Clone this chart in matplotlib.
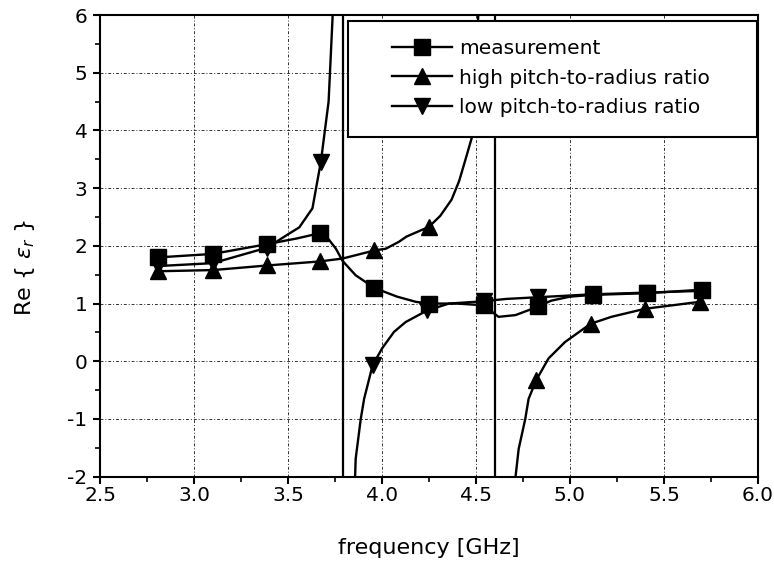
import matplotlib
matplotlib.use('Agg')
import matplotlib.pyplot as plt
from matplotlib.patches import Rectangle
from matplotlib.ticker import MultipleLocator, FormatStrFormatter

plt.rcParams.update({
    'font.family': ['DejaVu Sans'],
    'font.size': 14.5,
    'axes.unicode_minus': False,
    'axes.linewidth': 1.5,
})

NAN = float('nan')

# measurement (squares)
f_meas = [2.81, 3.10, 3.39, 3.55, 3.67, 3.70, 3.755, 3.79, 3.86, 3.96, 4.08, 4.18, 4.25,
          4.40, 4.54, 4.62, 4.71, 4.80, 4.83, 4.90, 5.00, 5.12, 5.41, 5.70]
e_meas = [1.80, 1.86, 2.03, 2.13, 2.22, 2.18, 1.95, 1.74, 1.49, 1.27, 1.12, 1.03, 1.00,
          1.00, 0.97, 0.77, 0.80, 0.91, 0.95, 1.05, 1.12, 1.15, 1.18, 1.24]
mk_meas = [0, 1, 2, 4, 9, 12, 14, 18, 21, 22, 23]

# high pitch-to-radius ratio (up triangles), pole near 4.6 GHz
f_high = [2.81, 3.10, 3.39, 3.67, 3.79, 3.96, 4.02, 4.09, 4.13, 4.25, 4.31, 4.37, 4.41, 4.44,
          4.48, 4.52,
          NAN,
          4.705, 4.709, 4.727, 4.762, 4.78, 4.82, 4.886, 4.974, 5.11, 5.22, 5.40, 5.69]
e_high = [1.56, 1.58, 1.66, 1.73, 1.78, 1.92, 1.95, 2.07, 2.16, 2.33, 2.52, 2.80, 3.12, 3.45,
          3.90, 6.5,
          NAN,
          -2.5, -2.04, -1.52, -1.00, -0.65, -0.33, 0.05, 0.335, 0.65, 0.77, 0.91, 1.03]
mk_high = [0, 1, 2, 3, 5, 9, 22, 25, 27, 28]

# low pitch-to-radius ratio (down triangles), pole near 3.8 GHz
f_low = [2.81, 3.10, 3.39, 3.50, 3.56, 3.63, 3.675, 3.716, 3.737, 3.745,
         NAN,
         3.852, 3.857, 3.86, 3.887, 3.905, 3.95, 4.00, 4.064, 4.126, 4.24, 4.356,
         4.54, 4.66, 4.83, 5.12, 5.41, 5.70]
e_low = [1.65, 1.70, 1.97, 2.20, 2.32, 2.65, 3.46, 4.50, 5.95, 7.0,
         NAN,
         -2.5, -2.0, -1.69, -1.00, -0.65, -0.07, 0.22, 0.51, 0.68, 0.88, 1.00,
         1.04, 1.08, 1.11, 1.16, 1.19, 1.22]
mk_low = [0, 1, 2, 6, 16, 20, 22, 24, 25, 26, 27]

# resonance lines
f_res = [3.79, 4.60]

fig = plt.figure(figsize=(7.74, 5.64), dpi=100)
ax = fig.add_axes([0.1292, 0.1548, 0.9793 - 0.1292, 0.9734 - 0.1548])

for xr in f_res:
    ax.axvline(xr, color='black', lw=1.6, zorder=3)

ax.plot(f_meas, e_meas, '-', color='black', lw=1.7, marker='s', ms=11,
        markevery=mk_meas, label='measurement', zorder=4)
ax.plot(f_high, e_high, '-', color='black', lw=1.7, marker='^', ms=12,
        markevery=mk_high, label='high pitch-to-radius ratio', zorder=4)
ax.plot(f_low, e_low, '-', color='black', lw=1.7, marker='v', ms=12,
        markevery=mk_low, label='low pitch-to-radius ratio', zorder=4)

ax.set_xlim(2.5, 6.0)
ax.set_ylim(-2, 6)
ax.xaxis.set_major_locator(MultipleLocator(0.5))
ax.xaxis.set_minor_locator(MultipleLocator(0.25))
ax.yaxis.set_major_locator(MultipleLocator(1))
ax.yaxis.set_minor_locator(MultipleLocator(0.5))
ax.xaxis.set_major_formatter(FormatStrFormatter('%.1f'))
ax.tick_params(which='major', direction='out', length=5, width=1.5, labelsize=14.5)
ax.tick_params(which='minor', direction='out', length=3.5, width=1.2)
ax.tick_params(axis='x', which='major', pad=1.5)
ax.tick_params(axis='y', which='major', pad=4)

ax.grid(True, which='major', color='black', lw=0.7, linestyle=(0, (3, 2, 1, 2)), alpha=0.8)
ax.set_axisbelow(True)

ax.set_xlabel('frequency [GHz]', fontsize=16, labelpad=24)
ax.set_ylabel(r'Re { $\varepsilon_r$ }', fontsize=16)
ax.yaxis.set_label_coords(-0.095, 0.452)

# legend box drawn as a patch so the entries can sit indented inside it
ax.add_patch(Rectangle((0.377, 0.7364), 0.6216, 0.2513, transform=ax.transAxes,
                       facecolor='white', edgecolor='black', lw=1.5, zorder=9))
leg = ax.legend(loc='upper left', bbox_to_anchor=(0.4438, 0.947), frameon=False,
                fontsize=14.5, handlelength=3.0, handletextpad=0.35,
                labelspacing=0.5, borderpad=0, borderaxespad=0)
leg.set_zorder(10)

fig.savefig('out.png', dpi=100)
